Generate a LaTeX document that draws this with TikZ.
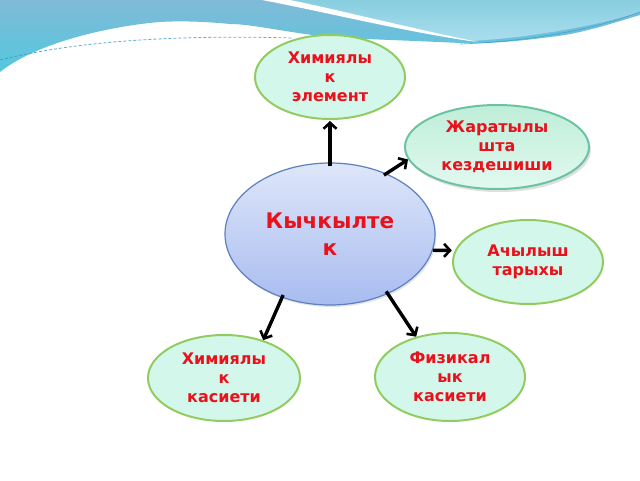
\documentclass[tikz,border=0pt]{standalone}
\usepackage{fontspec}
\setmainfont{DejaVu Sans}
\usetikzlibrary{shapes.geometric,arrows.meta,shadows}
\definecolor{txtred}{RGB}{232,18,28}
\definecolor{greenfill}{RGB}{212,247,236}
\definecolor{greenline}{RGB}{146,204,96}
\definecolor{tealtop}{RGB}{190,238,216}
\definecolor{tealbot}{RGB}{226,249,240}
\definecolor{tealline}{RGB}{110,194,164}
\definecolor{bluetop}{RGB}{222,230,249}
\definecolor{bluebot}{RGB}{168,188,240}
\definecolor{blueline}{RGB}{92,128,192}
\definecolor{bandtop}{RGB}{128,186,216}
\definecolor{bandbot}{RGB}{84,200,222}
\definecolor{rtop}{RGB}{136,206,224}
\definecolor{rbot}{RGB}{170,222,238}
\definecolor{dashblue}{RGB}{60,150,196}
\begin{document}
\begin{tikzpicture}[x=1pt,y=-1pt,
  ell/.style={ellipse, align=center, text=txtred,
    font=\bfseries\fontsize{16}{19}\selectfont, line width=2pt},
  greenell/.style={ell, draw=greenline, fill=greenfill},
  tealell/.style={ell, draw=tealline, top color=tealtop, bottom color=tealbot,
    drop shadow={shadow xshift=2pt, shadow yshift=-3pt, opacity=0.25}},
  centerell/.style={ellipse, align=center, text=txtred,
    font=\bfseries\fontsize{21.5}{27}\selectfont, line width=1.2pt,
    draw=blueline, top color=bluetop, bottom color=bluebot,
    drop shadow={shadow xshift=1.5pt, shadow yshift=-2pt, opacity=0.2}},
  arr/.style={line width=3.4pt, black, -{Straight Barb[length=6pt,width=13pt,line width=2.6pt]}}
]
\useasboundingbox (0,0) rectangle (640,480);
\fill[white] (0,0) rectangle (640,480);
% decorative top band
\shade[top color=bandtop, bottom color=bandbot]
  (0,0) -- (640,0) -- (640,15)
  .. controls (610,24) and (580,34) .. (550,37)
  .. controls (520,41) and (490,44) .. (460,43)
  .. controls (400,40) and (350,39) .. (320,36)
  .. controls (280,31) and (250,24) .. (230,24)
  .. controls (200,21) and (175,21) .. (160,22)
  .. controls (120,25) and (40,40) .. (0,72) -- cycle;
\shade[top color=rtop, bottom color=rbot]
  (272,0) -- (640,0) -- (640,12)
  .. controls (600,25) and (530,38) .. (470,41)
  .. controls (420,34) and (340,14) .. (272,0) -- cycle;
\fill[white] (262,0) .. controls (330,13) and (410,33) .. (478,42)
  .. controls (410,28) and (330,8) .. (290,0) -- cycle;
\draw[dashblue, line width=0.7pt, opacity=0.7] (460,44) .. controls (540,41) and (600,27) .. (640,12);
\draw[dashblue, line width=0.8pt, dash pattern=on 3pt off 2pt, opacity=0.8]
  (0,60) .. controls (60,45) and (150,34) .. (292,38);
% nodes
\node[centerell, minimum width=210pt, minimum height=142pt] (kk) at (330,234) {Кычкылте\\к};
\node[greenell, minimum width=150pt, minimum height=84pt] (chem) at (330,77) {Химиялы\\к\\элемент};
\node[tealell, minimum width=184pt, minimum height=84pt] (nat) at (497,147) {Жаратылы\\шта\\кездешиши};
\node[greenell, minimum width=150pt, minimum height=84pt] (hist) at (528,262) {Ачылыш\\тарыхы};
\node[greenell, minimum width=152pt, minimum height=86pt] (chp) at (224,378) {Химиялы\\к\\касиети};
\node[greenell, minimum width=150pt, minimum height=88pt] (php) at (450,377) {Физикал\\ык\\касиети};
% arrows
\draw[arr, shorten <=-4pt, shorten >=1pt] (kk.90) -- (chem.270);
\draw[arr, shorten <=-3pt] (kk.47) -- (nat.188);
\draw[arr, shorten >=3pt] (kk.-9) -- (hist.171);
\draw[arr, shorten <=-3pt] (kk.-127) -- (chp.44);
\draw[arr, shorten <=-3pt] (kk.-46) -- (php.130);
\end{tikzpicture}
\end{document}
